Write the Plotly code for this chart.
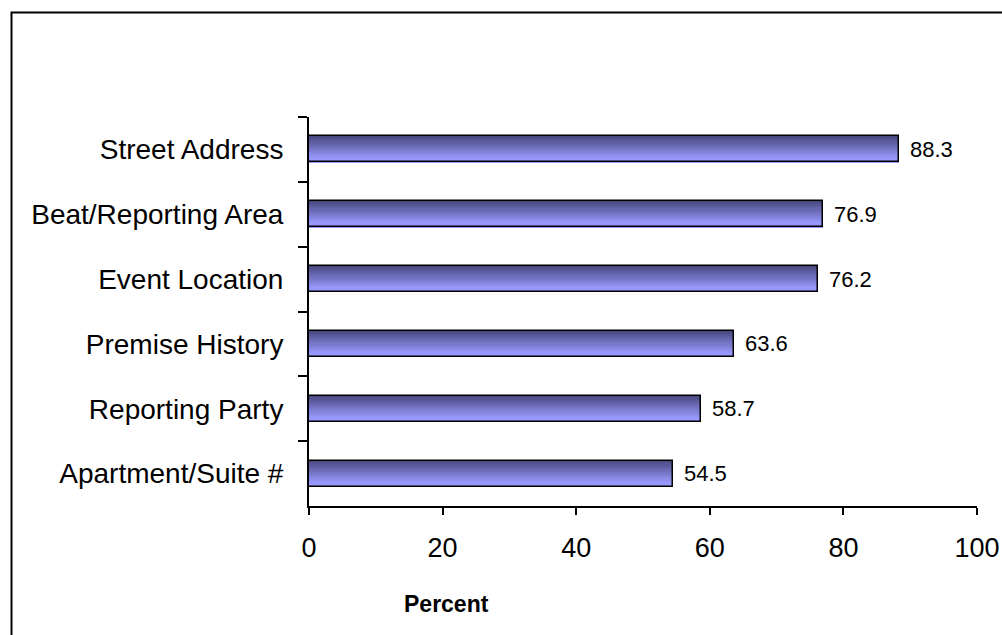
import plotly.graph_objects as go

# Data, listed top to bottom as displayed
categories = ["Street Address", "Beat/Reporting Area", "Event Location",
              "Premise History", "Reporting Party", "Apartment/Suite #"]
values = [88.3, 76.9, 76.2, 63.6, 58.7, 54.5]
x_ticks = [0, 20, 40, 60, 80, 100]

FONT = "Liberation Sans, Arial, sans-serif"
BAR_W = 0.4
N_BANDS = 24
TOP_RGB = (70, 70, 124)
BOT_RGB = (152, 152, 252)

fig = go.Figure()

# Vertical gradient fill built from thin stacked bands
for k in range(N_BANDS):
    t = min(1.0, (k + 0.5) / (N_BANDS * 0.85))
    rgb = tuple(round(a + (b - a) * t) for a, b in zip(TOP_RGB, BOT_RGB))
    fig.add_trace(go.Bar(
        x=values, y=categories, orientation="h",
        width=BAR_W / N_BANDS * 1.05,
        offset=-BAR_W / 2 + k * BAR_W / N_BANDS,
        marker=dict(color="rgb(%d,%d,%d)" % rgb, line=dict(width=0)),
        hoverinfo="skip", showlegend=False,
    ))

# Black outline over each bar
fig.add_trace(go.Bar(
    x=values, y=categories, orientation="h",
    width=BAR_W, offset=-BAR_W / 2,
    marker=dict(color="rgba(0,0,0,0)", line=dict(color="black", width=1.5)),
    showlegend=False,
))

# Value labels at bar ends
for c, v in zip(categories, values):
    fig.add_annotation(x=v, y=c, text=f"{v:.1f}", showarrow=False,
                       xanchor="left", xshift=9,
                       font=dict(family=FONT, size=22, color="black"))

# Axis title
fig.add_annotation(x=(446 - 309) / 668, y=-(604 - 506) / 389,
                   xref="paper", yref="paper", text="<b>Percent</b>",
                   showarrow=False, xanchor="center", yanchor="middle",
                   font=dict(family=FONT, size=23, color="black"))

# Outer frame
fig.add_shape(type="rect", xref="paper", yref="paper",
              x0=(11.5 - 309) / 668, x1=1.2,
              y0=-0.6, y1=(506 - 12.5) / 389,
              line=dict(color="black", width=2), fillcolor="rgba(0,0,0,0)",
              layer="below")

fig.update_layout(
    width=1002, height=635,
    margin=dict(l=309, r=25, t=117, b=129),
    paper_bgcolor="white", plot_bgcolor="white",
    barmode="overlay", bargap=0,
    font=dict(family=FONT, color="black"),
    xaxis=dict(range=[0, 100], tickvals=x_ticks, ticks="outside",
               ticklen=7, tickwidth=2, tickcolor="black",
               showline=True, linewidth=2, linecolor="black",
               showgrid=False, zeroline=False, automargin=False,
               tickfont=dict(family=FONT, size=27, color="black"),
               ticklabelstandoff=10),
    yaxis=dict(type="category", categoryorder="array", categoryarray=categories,
               autorange="reversed", tickson="boundaries",
               ticks="outside", ticklen=9, tickwidth=2, tickcolor="black",
               showline=True, linewidth=2, linecolor="black",
               showgrid=False, zeroline=False, automargin=False,
               tickfont=dict(family=FONT, size=28, color="black"),
               ticklabelstandoff=18),
)

fig.write_html("out.html")
